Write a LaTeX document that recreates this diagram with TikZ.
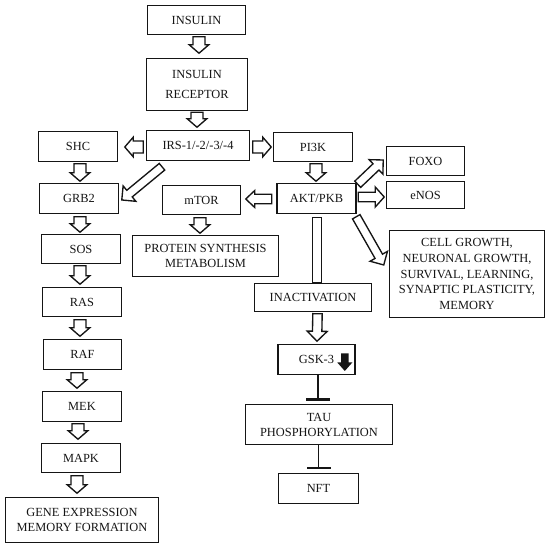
\documentclass[tikz,border=0pt]{standalone}
\usepackage{fontspec}
\setmainfont{Liberation Serif}
\usetikzlibrary{calc,arrows.meta}
\definecolor{ink}{HTML}{151515}
\newcommand\blockarr[6][]{%
  \path let \p1=#2, \p2=#3, \n1={atan2(\y2-\y1,\x2-\x1)}, \n2={veclen(\x2-\x1,\y2-\y1)} in
    \pgfextra{\xdef\bax{\x1}\xdef\bay{\y1}\xdef\baang{\n1}\xdef\balen{\n2}};
  \begin{scope}[shift={(\bax,\bay)},rotate=\baang]
    \draw[blk,#1] (0pt,-#4pt) -- (\balen-#6pt,-#4pt) -- (\balen-#6pt,-#5pt) -- (\balen,0pt)
      -- (\balen-#6pt,#5pt) -- (\balen-#6pt,#4pt) -- (0pt,#4pt) -- cycle;
  \end{scope}}
\newcommand\smallarr[2]{\blockarr{#1}{#2}{6}{9.8}{8.5}}
\newcommand\diagarr[2]{\blockarr{#1}{#2}{4.3}{10}{10}}
\tikzset{
  box/.style={draw=ink, line width=1.5pt, fill=white, align=center, inner sep=1pt,
    text=ink, font=\fontsize{12.4}{15}\selectfont},
  blk/.style={draw=ink, line width=1.35pt, fill=white, line join=miter},
  inh/.style={draw=ink, line width=1.5pt, -{Bar[width=24pt,line width=2.4pt]}},
}
\begin{document}
\begin{tikzpicture}[x=1pt,y=-1pt]
\useasboundingbox (0,0) rectangle (550,548);
% nodes
\node[box, minimum width=98, minimum height=29] (ins) at (196.5,20) {INSULIN};
\node[box, minimum width=101, minimum height=52] (rec) at (197,84.5) {INSULIN\\[5pt]RECEPTOR};
\node[box, minimum width=103, minimum height=30] (irs) at (198,145.5) {IRS-1/-2/-3/-4};
\node[box, minimum width=79, minimum height=30] (shc) at (78,146.5) {SHC};
\node[box, minimum width=79, minimum height=29] (pi3k) at (313,147) {PI3K};
\node[box, minimum width=78, minimum height=29] (foxo) at (425.5,161) {FOXO};
\node[box, minimum width=78, minimum height=27] (enos) at (425.5,195) {eNOS};
\node[box, minimum width=79, minimum height=30] (akt) at (316.5,198.5) {AKT/PKB};
\node[box, minimum width=79, minimum height=30] (grb2) at (79,198.5) {GRB2};
\node[box, minimum width=78, minimum height=29] (mtor) at (201.5,200) {mTOR};
\node[box, minimum width=146, minimum height=41] (prot) at (205.5,256) {PROTEIN SYNTHESIS\\METABOLISM};
\node[box, minimum width=79, minimum height=29] (sos) at (81,249) {SOS};
\node[box, minimum width=79, minimum height=29] (ras) at (82,302) {RAS};
\node[box, minimum width=78, minimum height=30] (raf) at (82.5,354.5) {RAF};
\node[box, minimum width=79, minimum height=30] (mek) at (82,406.5) {MEK};
\node[box, minimum width=79, minimum height=29] (mapk) at (81,458) {MAPK};
\node[box, minimum width=153, minimum height=45] (gene) at (82,520) {GENE EXPRESSION\\MEMORY FORMATION};
\node[box, minimum width=155, minimum height=87, font=\fontsize{12.4}{15.7}\selectfont] (cell) at (467,274)
  {CELL GROWTH,\\NEURONAL GROWTH,\\SURVIVAL, LEARNING,\\SYNAPTIC PLASTICITY,\\MEMORY};
\node[box, minimum width=117, minimum height=28] (inact) at (313,297.5) {INACTIVATION};
\node[box, minimum width=77, minimum height=30] (gsk) at (316.5,359.5) {GSK-3};
\node[box, minimum width=147, minimum height=40] (tau) at (319,424.5) {TAU\\PHOSPHORYLATION};
\node[box, minimum width=80, minimum height=30] (nft) at (318.5,488.5) {NFT};
% block arrows
\smallarr{($(ins.south)+(2.5,1.5)$)}{($(rec.north)+(2,-4.5)$)}
\smallarr{($(rec.south)+(0,1)$)}{($(irs.north)+(-1,-2.5)$)}
\smallarr{($(irs.west)+(-2.5,1.5)$)}{($(shc.east)+(6.5,0.5)$)}
\smallarr{($(irs.east)+(2.5,1.5)$)}{($(pi3k.west)+(-1.5,0)$)}
\smallarr{($(pi3k.south)+(3,1.5)$)}{($(akt.north)+(-0.5,-1.5)$)}
\smallarr{($(shc.south)+(2,1.5)$)}{($(grb2.north)+(1,-1.5)$)}
\smallarr{($(grb2.south)+(1,2.5)$)}{($(sos.north)+(-1,-1.5)$)}
\smallarr{($(sos.south)+(-1,1.5)$)}{($(ras.north)+(-2,-2.5)$)}
\smallarr{($(ras.south)+(-2,2.5)$)}{($(raf.north)+(-2.5,-2.5)$)}
\smallarr{($(raf.south)+(-5.5,2.5)$)}{($(mek.north)+(-5,-2.5)$)}
\smallarr{($(mek.south)+(-4,1.5)$)}{($(mapk.north)+(-3,-3.5)$)}
\smallarr{($(mapk.south)+(-4,2.5)$)}{($(gene.north)+(-5,-3.5)$)}
\smallarr{($(mtor.south)+(-1.5,2.5)$)}{($(prot.north)+(-5.5,-1.5)$)}
\blockarr{($(akt.west)+(-4.5,0.5)$)}{($(mtor.east)+(4.5,-1)$)}{4.7}{8.5}{9}
\blockarr{($(akt.east)+(1.5,-1.5)$)}{($(enos.west)+(-1.5,2)$)}{4.7}{10}{9}
\diagarr{($(akt.north east)+(1,1.5)$)}{($(foxo.west)+(-2.5,-1)$)}
\diagarr{($(akt.south east)+(-0.5,2.5)$)}{($(cell.west)+(-5,-9)$)}
\diagarr{($(irs.south)+(-36,5.5)$)}{($(grb2.east)+(2.5,1.5)$)}
% AKT -> INACTIVATION bar and INACTIVATION -> GSK-3
\draw[blk] ($(akt.south)+(-4,3)$) rectangle ($(inact.north)+(8.5,0)$);
\blockarr{($(inact.south)+(4.5,1.5)$)}{($(gsk.north)+(0.5,-2.5)$)}{4.7}{10}{10}
% black down arrow in GSK-3 box
\fill[ink] ($(gsk.center)+(24.5,-6)$) -- ++(7.5,0) -- ++(0,9) -- ++(3.8,0) -- ++(-7.5,8.5)
  -- ++(-7.5,-8.5) -- ++(3.7,0) -- cycle;
% inhibition
\draw[inh] ($(tau.north |- gsk.south)+(-1,0)$) -- ($(tau.north)+(-1,-3)$);
\draw[inh] (nft.north |- tau.south) -- ($(nft.north)+(0,-3.5)$);
\end{tikzpicture}
\end{document}
